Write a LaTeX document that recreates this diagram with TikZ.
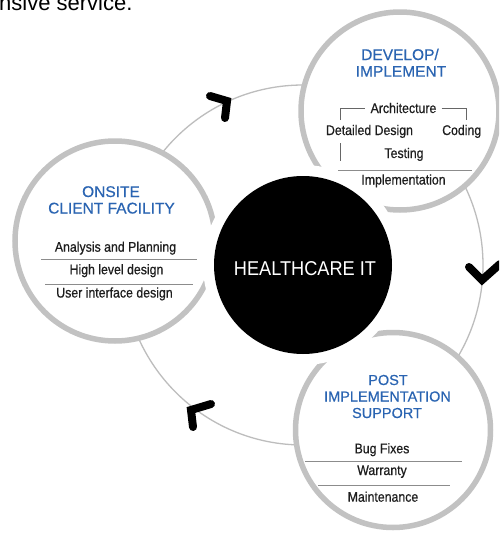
\documentclass[tikz,border=0pt]{standalone}
\usepackage{fontspec}
\setmainfont{Liberation Sans}
\newfontfamily\narrowf[FakeStretch=0.88,FakeBold=0.6]{Liberation Sans}
\newfontfamily\titlef[FakeBold=0.5]{Liberation Sans}
\newfontfamily\hubf[FakeStretch=0.91]{Liberation Sans}
\definecolor{ringgray}{HTML}{C2C2C2}
\definecolor{thinc}{HTML}{BDBDBD}
\definecolor{titleblue}{HTML}{2A64B2}
\definecolor{itemc}{HTML}{1E1E1E}
\definecolor{sepc}{HTML}{8C8C8C}
\begin{document}
\begin{tikzpicture}[x=1pt,y=-1pt,
  sat/.style={circle, draw=ringgray, line width=5.5pt, fill=white, inner sep=0pt},
  item/.style={anchor=base, inner sep=0pt, text=itemc, font=\narrowf\fontsize{14}{16}\selectfont},
  ttl/.style={anchor=base, inner sep=0pt, text=titleblue, font=\titlef\fontsize{15.5}{17}\selectfont},
  ttls/.style={anchor=base, inner sep=0pt, text=titleblue, font=\titlef\fontsize{14.5}{16}\selectfont},
  sepline/.style={draw=sepc, line width=0.9pt},
  chev/.style={draw=black, line width=8pt, line cap=round, line join=miter},
  thinring/.style={draw=thinc, line width=1.3pt}]
\useasboundingbox (0,0) rectangle (499,533);
\begin{scope}
\clip (0,0) rectangle (499,533);
\fill[white] (0,0) rectangle (499,533);
% cut-off caption at the top
\node[anchor=base west, inner sep=0pt, text=black, font=\fontsize{22}{24}\selectfont] (topt) at (-1,10) {nsive service.};
% hub position and thin cycle ring
\coordinate (hubc) at (303,265);
\draw[thinring] (hubc) circle (180pt);
% satellite circles
\node[sat, minimum size=198pt] (dev) at (400,111) {};
\node[sat, minimum size=200pt] (ons) at (115,241) {};
\node[sat, minimum size=195pt] (post) at (393,430) {};
% hub with white halo
\node[circle, fill=white, inner sep=0pt, minimum size=200pt] (halo) at (hubc) {};
\node[circle, fill=black, inner sep=0pt, minimum size=178pt] (hub) at (hubc) {};
\node[anchor=base, inner sep=0pt, text=white, font=\hubf\fontsize{20}{22}\selectfont] (hubtxt) at (305,275) {HEALTHCARE IT};
% chevrons
\coordinate (c1a) at (210,96); \coordinate (c1v) at (227,101); \coordinate (c1b) at (225,118);
\draw[chev] (c1a) -- (c1v) -- (c1b);
\coordinate (c2a) at (469,267); \coordinate (c2v) at (482,280); \coordinate (c2b) at (500,264);
\draw[chev] (c2a) -- (c2v) -- (c2b);
\coordinate (c3a) at (211,404); \coordinate (c3v) at (191,410); \coordinate (c3b) at (193,427);
\draw[chev] (c3a) -- (c3v) -- (c3b);
% DEVELOP / IMPLEMENT
\node[ttl] (d1) at (400,60) {DEVELOP/};
\node[ttl] (d2) at (401,76.7) {IMPLEMENT};
\node[item] (arch) at (403.5,113) {Architecture};
\draw[sepline, draw=black!60] (340,120) |- (365,108.3);
\draw[sepline, draw=black!60] (441.7,108.3) -| (466.7,120);
\node[item] (dd) at (369.5,135) {Detailed Design};
\node[item] (cod) at (461.7,135) {Coding};
\draw[sepline, draw=black!60] (340,143) -- (340,160.7);
\node[item] (tst) at (404,158) {Testing};
\draw[sepline] (338,170) -- (472,170);
\node[item] (impl) at (403.5,184.5) {Implementation};
% ONSITE CLIENT FACILITY
\node[ttl] (o1) at (111,197) {ONSITE};
\node[ttl] (o2) at (111.5,213.5) {CLIENT FACILITY};
\node[item] (ana) at (115.5,251.7) {Analysis and Planning};
\draw[sepline] (41,259.5) -- (197,259.5);
\node[item] (hld) at (116.5,274.3) {High level design};
\draw[sepline] (45,284) -- (193,284);
\node[item] (uid) at (114.5,297.5) {User interface design};
% POST IMPLEMENTATION SUPPORT
\node[ttls] (p1) at (388,385) {POST};
\node[ttls] (p2) at (387.5,401.5) {IMPLEMENTATION};
\node[ttls] (p3) at (387,418) {SUPPORT};
\node[item] (bug) at (382,453.3) {Bug Fixes};
\draw[sepline] (305,461.7) -- (462,461.7);
\node[item] (war) at (382,475) {Warranty};
\draw[sepline] (318,485) -- (450,485);
\node[item] (mai) at (383,501.7) {Maintenance};
\end{scope}
\end{tikzpicture}
\end{document}
